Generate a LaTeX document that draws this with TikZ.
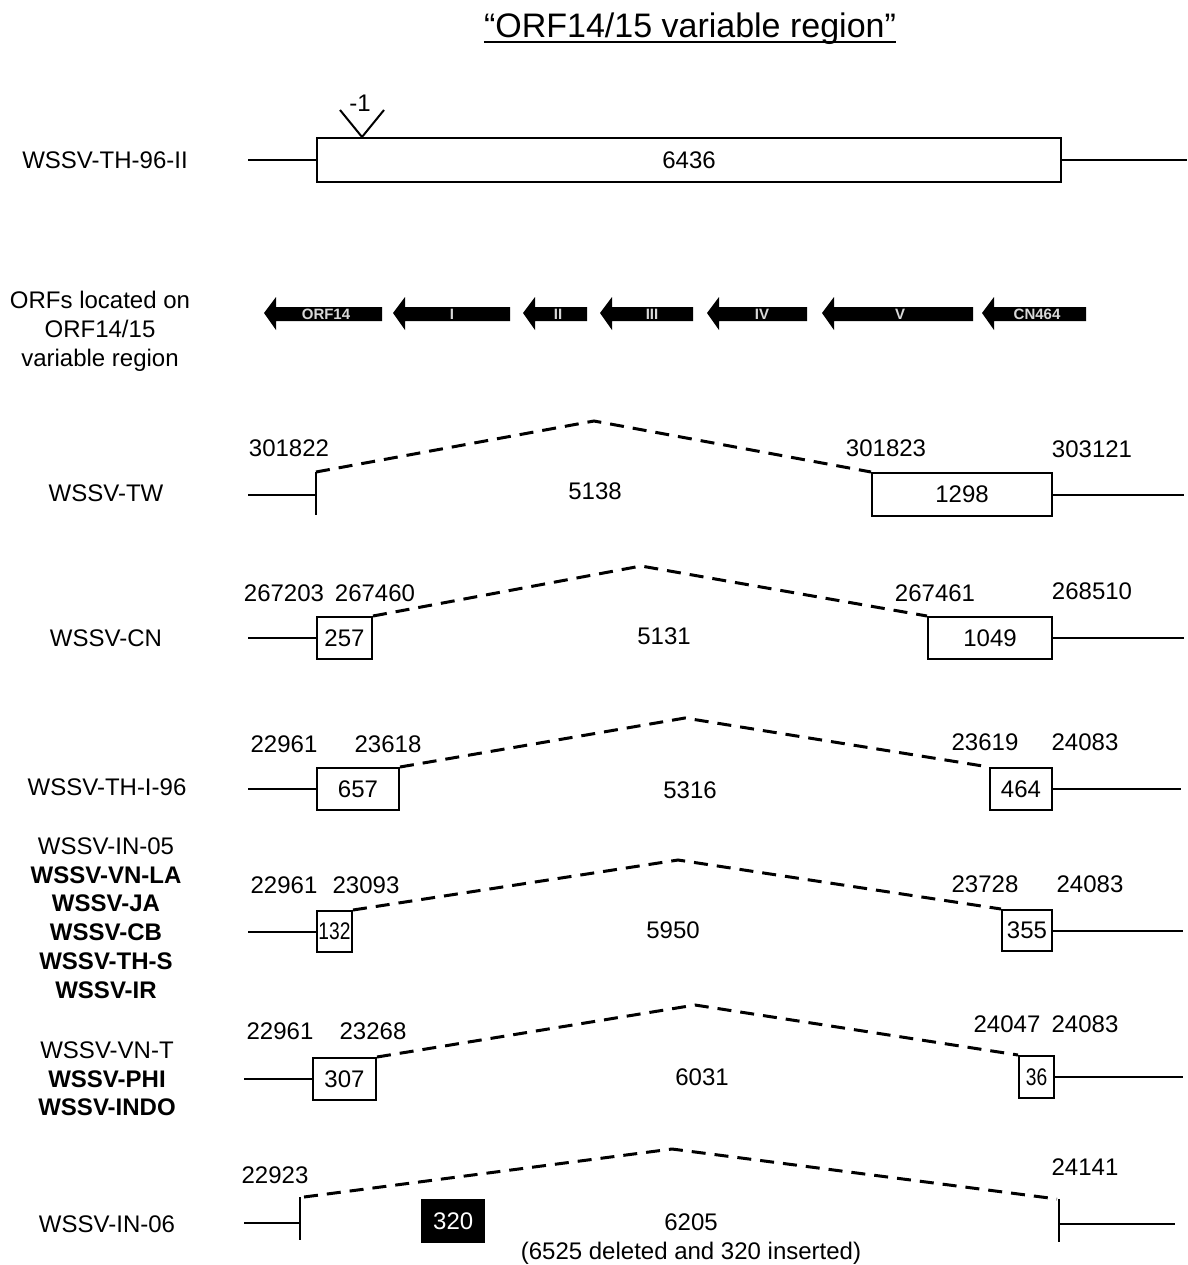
\documentclass[tikz,border=0pt]{standalone}
\usepackage{fontspec}
\setmainfont{Liberation Sans}
\begin{document}
\begin{tikzpicture}[x=1pt,y=-1pt,
  lbl/.style={font=\fontsize{24}{28}\selectfont, inner sep=0pt, anchor=base},
  blbl/.style={lbl, font=\fontsize{24}{28}\selectfont\bfseries},
  seg/.style={line width=2pt},
  gapline/.style={line width=3pt, dash pattern=on 14pt off 9pt},
  gbox/.style={draw, line width=2pt, inner sep=0pt, anchor=north west, font=\fontsize{24}{28}\selectfont},
  orflbl/.style={font=\fontsize{15}{17}\selectfont\bfseries, text=white!85!black, inner sep=0pt}
]
\useasboundingbox (0,0) rectangle (1187,1265);

% title
\node[lbl, font=\fontsize{34}{40}\selectfont] (title) at (690,38) {“ORF14/15 variable region”};
\draw[line width=2pt] ([yshift=-4pt]title.base west) -- ([yshift=-4pt]title.base east);

% row 1: WSSV-TH-96-II
\node[lbl] (n1) at (105,168.5) {WSSV-TH-96-II};
\coordinate (r1l) at (248,160);
\coordinate (r1r) at (1187,160);
\node[gbox, minimum width=744pt, minimum height=44pt] (r1b) at (316,137) {6436};
\draw[seg] (r1l) -- (r1l -| r1b.west);
\draw[seg] (r1b.east |- r1r) -- (r1r);
\coordinate (vl) at (340,110);
\coordinate (vt) at (362,137);
\coordinate (vr) at (384,110);
\draw[seg] (vl) -- (vt) -- (vr);
\node[lbl] (m1) at (360,112) {-1};

% row 2: ORFs
\node[lbl] (n2a) at (100,308.5) {ORFs located on};
\node[lbl] (n2b) at (100,337.5) {ORF14/15};
\node[lbl] (n2c) at (100,366.5) {variable region};
\foreach \tx/\ex/\lx/\t [count=\k] in {264/382/326/ORF14, 393/510/452/I, 523/587/558/II, 600/693/652/III, 707/807/762/IV, 822/973/900/V, 982/1086/1037/CN464}{
  \fill[black] (\tx,313) -- (\tx+12,297) -- (\tx+12,307) -- (\ex,307) -- (\ex,321) -- (\tx+12,321) -- (\tx+12,330) -- cycle;
  \node[orflbl] (orf\k) at (\lx,314) {\t};
}

% row 3: WSSV-TW
\node[lbl] (n3) at (106,501.5) {WSSV-TW};
\coordinate (r3l) at (248,495);
\coordinate (r3tt) at (316,472);
\coordinate (r3tb) at (316,515);
\coordinate (r3p) at (594,421);
\coordinate (r3r) at (1184,495);
\draw[seg] (r3l) -- (r3l -| r3tt);
\draw[seg] (r3tt) -- (r3tb);
\node[gbox, minimum width=180pt, minimum height=43pt] (r3b) at (871,472) {1298};
\draw[seg] (r3b.east) -- (r3b.east -| r3r);
\draw[gapline] (r3tt) -- (r3p) -- (r3b.north west);
\node[lbl] (t3a) at (289,456.5) {301822};
\node[lbl] (t3b) at (886,456.5) {301823};
\node[lbl] (t3c) at (1092,457.5) {303121};
\node[lbl] (t3d) at (595,499.5) {5138};

% row 4: WSSV-CN
\node[lbl] (n4) at (106,646.5) {WSSV-CN};
\coordinate (r4l) at (248,637);
\coordinate (r4p) at (641,566);
\coordinate (r4r) at (1184,637);
\node[gbox, minimum width=55pt, minimum height=42pt] (r4a) at (316,616) {257};
\node[gbox, minimum width=124pt, minimum height=42pt] (r4b) at (927,616) {1049};
\draw[seg] (r4a.west -| r4l) -- (r4a.west);
\draw[seg] (r4b.east) -- (r4b.east -| r4r);
\draw[gapline] (r4a.north east) -- (r4p) -- (r4b.north west);
\node[lbl] (t4a) at (284,601.5) {267203};
\node[lbl] (t4b) at (375,601.5) {267460};
\node[lbl] (t4c) at (935,601.5) {267461};
\node[lbl] (t4d) at (1092,599.5) {268510};
\node[lbl] (t4e) at (664,644.5) {5131};

% row 5: WSSV-TH-I-96
\node[lbl] (n5) at (107,795.5) {WSSV-TH-I-96};
\coordinate (r5l) at (248,788);
\coordinate (r5p) at (685,718);
\coordinate (r5r) at (1181,788);
\node[gbox, minimum width=82pt, minimum height=42pt] (r5a) at (316,767) {657};
\node[gbox, minimum width=62pt, minimum height=42pt] (r5b) at (989,767) {464};
\draw[seg] (r5a.west -| r5l) -- (r5a.west);
\draw[seg] (r5b.east) -- (r5b.east -| r5r);
\draw[gapline] (r5a.north east) -- (r5p) -- (r5b.north west);
\node[lbl] (t5a) at (284,752.5) {22961};
\node[lbl] (t5b) at (388,752.5) {23618};
\node[lbl] (t5c) at (985,750.5) {23619};
\node[lbl] (t5d) at (1085,750.5) {24083};
\node[lbl] (t5e) at (690,798.5) {5316};

% row 6: group 1
\node[lbl] (g1a) at (106,854.5) {WSSV-IN-05};
\node[blbl] (g1b) at (106,883.5) {WSSV-VN-LA};
\node[blbl] (g1c) at (106,911.5) {WSSV-JA};
\node[blbl] (g1d) at (106,940.5) {WSSV-CB};
\node[blbl] (g1e) at (106,969.5) {WSSV-TH-S};
\node[blbl] (g1f) at (106,998.5) {WSSV-IR};
\coordinate (r6l) at (248,930);
\coordinate (r6p) at (678,860);
\coordinate (r6r) at (1183,930);
\node[gbox, minimum width=35pt, minimum height=41pt] (r6a) at (316,910) {\scalebox{0.8}[1]{132}};
\node[gbox, minimum width=50pt, minimum height=41pt] (r6b) at (1001,909) {355};
\draw[seg] (r6a.west -| r6l) -- (r6a.west);
\draw[seg] (r6b.east) -- (r6b.east -| r6r);
\draw[gapline] (r6a.north east) -- (r6p) -- (r6b.north west);
\node[lbl] (t6a) at (284,893.5) {22961};
\node[lbl] (t6b) at (366,893.5) {23093};
\node[lbl] (t6c) at (985,892.5) {23728};
\node[lbl] (t6d) at (1090,892.5) {24083};
\node[lbl] (t6e) at (673,938.5) {5950};

% row 7: group 2
\node[lbl] (g2a) at (107,1058.5) {WSSV-VN-T};
\node[blbl] (g2b) at (107,1087.5) {WSSV-PHI};
\node[blbl] (g2c) at (107,1115.5) {WSSV-INDO};
\coordinate (r7l) at (244,1078);
\coordinate (r7p) at (695,1005);
\coordinate (r7r) at (1183,1078);
\node[gbox, minimum width=63pt, minimum height=42pt] (r7a) at (312,1057) {307};
\node[gbox, minimum width=35pt, minimum height=42pt] (r7b) at (1018,1055) {\scalebox{0.8}[1]{36}};
\draw[seg] (r7a.west -| r7l) -- (r7a.west);
\draw[seg] (r7b.east) -- (r7b.east -| r7r);
\draw[gapline] (r7a.north east) -- (r7p) -- (r7b.north west);
\node[lbl] (t7a) at (280,1039.5) {22961};
\node[lbl] (t7b) at (373,1039.5) {23268};
\node[lbl] (t7c) at (1007,1032.5) {24047};
\node[lbl] (t7d) at (1085,1032.5) {24083};
\node[lbl] (t7e) at (702,1085.5) {6031};

% row 8: WSSV-IN-06
\node[lbl] (n8) at (107,1232.5) {WSSV-IN-06};
\coordinate (r8l) at (244,1223);
\coordinate (r8lt) at (300,1197);
\coordinate (r8lb) at (300,1240);
\coordinate (r8p) at (672,1149);
\coordinate (r8rt) at (1059,1199);
\coordinate (r8rb) at (1059,1242);
\coordinate (r8r) at (1175,1224);
\draw[seg] (r8l) -- (r8l -| r8lt);
\draw[seg] (r8lt) -- (r8lb);
\draw[seg] (r8rt) -- (r8rb);
\draw[seg] (r8r -| r8rt) -- (r8r);
\draw[gapline] ([xshift=4pt]r8lt) -- (r8p) -- ([xshift=-2pt]r8rt);
\node[fill=black, text=white, inner sep=0pt, anchor=north west, minimum width=64pt, minimum height=44pt, font=\fontsize{24}{28}\selectfont] (r8ins) at (421,1199) {320};
\node[lbl] (t8a) at (275,1183.5) {22923};
\node[lbl] (t8b) at (1085,1175.5) {24141};
\node[lbl] (t8c) at (691,1230.5) {6205};
\node[lbl] (t8d) at (691,1259.5) {(6525 deleted and 320 inserted)};
\end{tikzpicture}
\end{document}
